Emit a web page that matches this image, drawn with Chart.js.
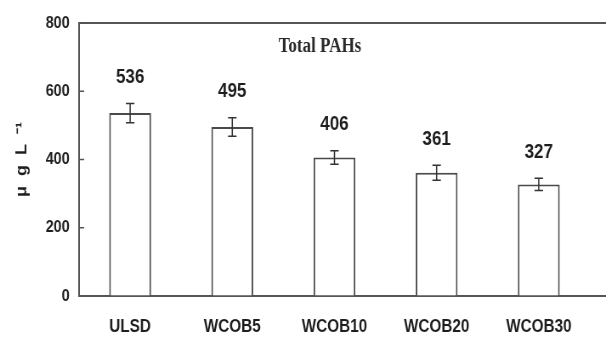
<!DOCTYPE html>
<html>
<head>
<meta charset="utf-8">
<title>Total PAHs</title>
<script src="https://cdn.jsdelivr.net/npm/chart.js@4.4.1/dist/chart.umd.min.js"></script>
<style>
  html, body { margin: 0; padding: 0; background: #ffffff; overflow: hidden; }
  #grafico { display: block; }
</style>
</head>
<body>
<!-- el lienzo se dibuja más ancho y se estrecha al mostrarlo (texto condensado como el original) -->
<canvas id="grafico" width="713" height="343" style="width:606px;height:343px;"></canvas>
<script>
  // datos del gráfico
  var categorias = ["ULSD", "WCOB5", "WCOB10", "WCOB20", "WCOB30"];
  var totalPAHs = [536, 495, 406, 361, 327];
  var errores = [28, 27, 20, 22, 18];
  var ticksY = [0, 200, 400, 600, 800];
  var tituloGrafico = "Total PAHs";
  var tituloEjeY = "\u03bc  g  L  \u207b\u00b9";

  var fuente = "'Liberation Sans', Arial, sans-serif";
  var colorLinea = "#555555";
  var colorTexto = "#1e1e1e";

  // barras de error, valores, marcas internas, borde superior y título
  var extras = {
    id: "extras",
    afterDatasetsDraw: function (chart) {
      var ctx = chart.ctx;
      var area = chart.chartArea;
      var y = chart.scales.y;
      var meta = chart.getDatasetMeta(0);

      ctx.save();
      // línea superior y prolongación de la inferior
      ctx.strokeStyle = colorLinea;
      ctx.lineWidth = 2;
      ctx.beginPath();
      ctx.moveTo(area.left, area.top);
      ctx.lineTo(chart.width, area.top);
      ctx.moveTo(area.right, area.bottom);
      ctx.lineTo(chart.width, area.bottom);
      ctx.stroke();

      // marcas del eje Y hacia dentro
      ctx.lineWidth = 1.5;
      y.ticks.forEach(function (t) {
        var py = y.getPixelForValue(t.value);
        ctx.beginPath();
        ctx.moveTo(area.left, py);
        ctx.lineTo(area.left + 6, py);
        ctx.stroke();
      });

      // barras de error
      ctx.strokeStyle = "#333333";
      ctx.lineWidth = 1.5;
      meta.data.forEach(function (bar, i) {
        var x = bar.x;
        var yTop = y.getPixelForValue(totalPAHs[i] + errores[i]);
        var yBot = y.getPixelForValue(totalPAHs[i] - errores[i]);
        ctx.beginPath();
        ctx.moveTo(x, yTop);
        ctx.lineTo(x, yBot);
        ctx.moveTo(x - 5, yTop);
        ctx.lineTo(x + 5, yTop);
        ctx.moveTo(x - 5, yBot);
        ctx.lineTo(x + 5, yBot);
        ctx.stroke();

        // valor encima
        ctx.fillStyle = colorTexto;
        ctx.font = "bold 20px " + fuente;
        ctx.textAlign = "center";
        ctx.textBaseline = "middle";
        ctx.fillText(String(totalPAHs[i]), x, yTop - 26);
      });

      // título dentro del área
      ctx.fillStyle = "#2a2a2a";
      ctx.font = "bold 20px 'Liberation Serif', 'Times New Roman', serif";
      ctx.textAlign = "center";
      ctx.textBaseline = "middle";
      ctx.fillText(tituloGrafico, chart.width * 0.528, area.top + 24);
      ctx.restore();
    }
  };

  var ctxGrafico = document.getElementById("grafico");
  new Chart(ctxGrafico, {
    type: "bar",
    data: {
      labels: categorias,
      datasets: [{
        label: tituloGrafico,
        data: totalPAHs,
        backgroundColor: "#ffffff",
        borderColor: "#4a4a4a",
        borderWidth: 2,
        categoryPercentage: 1,
        barPercentage: 0.41
      }]
    },
    options: {
      responsive: false,
      animation: false,
      layout: {
        padding: { top: 23, right: 19, bottom: 0, left: 0 }
      },
      plugins: {
        legend: { display: false },
        tooltip: { enabled: false }
      },
      scales: {
        x: {
          afterFit: function (scale) { scale.height = 47; },
          grid: { display: false, drawTicks: false },
          border: { display: true, color: colorLinea, width: 2 },
          ticks: {
            padding: 20,
            color: colorTexto,
            font: { family: fuente, size: 18, weight: "bold" }
          }
        },
        y: {
          min: ticksY[0],
          max: ticksY[ticksY.length - 1],
          afterFit: function (scale) { scale.width = 93; },
          afterBuildTicks: function (scale) {
            scale.ticks = ticksY.map(function (v) { return { value: v }; });
          },
          grid: { drawOnChartArea: false, drawTicks: false },
          border: { display: true, color: colorLinea, width: 2 },
          ticks: {
            padding: 11,
            color: colorTexto,
            font: { family: fuente, size: 17, weight: "bold" }
          },
          title: {
            display: true,
            text: tituloEjeY,
            color: colorTexto,
            padding: { top: 15, bottom: 0 },
            font: { family: fuente, size: 18, weight: "bold" }
          }
        }
      }
    },
    plugins: [extras]
  });
</script>
</body>
</html>
